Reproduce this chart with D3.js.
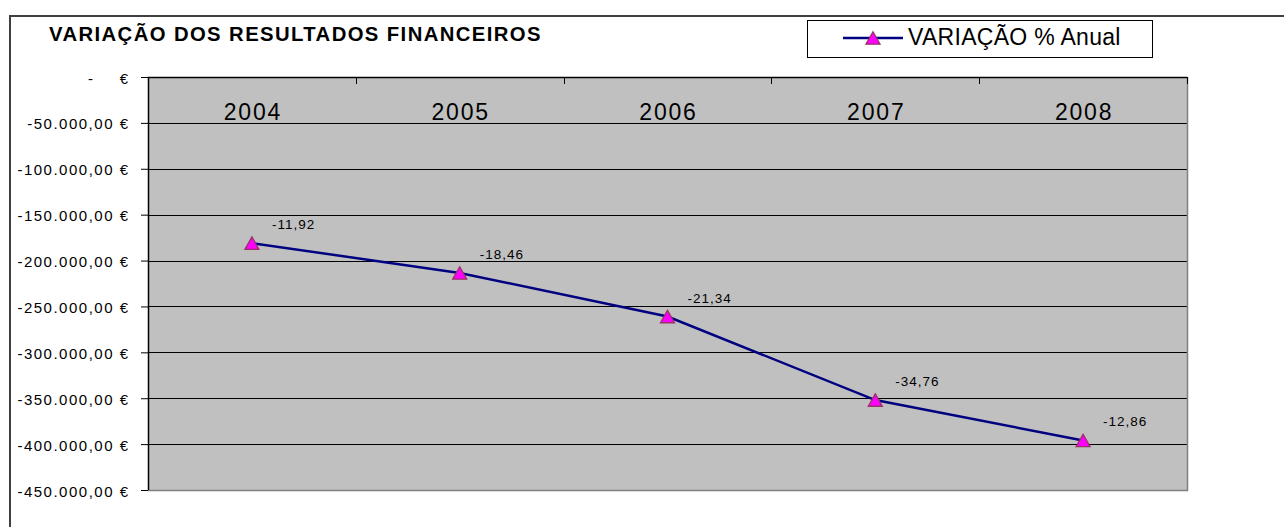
<!DOCTYPE html>
<html><head><meta charset="utf-8">
<script src="https://cdn.jsdelivr.net/npm/d3@7"></script>
<style>body{margin:0;background:#fff;overflow:hidden} text{font-family:"Liberation Sans",Arial,sans-serif}</style>
</head><body><svg id="c" width="1284" height="527"></svg>
<script>
const categories = ["2004", "2005", "2006", "2007", "2008"];
const values = [-181000, -213500, -261000, -352000, -396000];
const pctLabels = ["-11,92", "-18,46", "-21,34", "-34,76", "-12,86"];
const yTicks = [0, -50000, -100000, -150000, -200000, -250000, -300000, -350000, -400000, -450000];
const title = "VARIAÇÃO DOS RESULTADOS FINANCEIROS";
const seriesName = "VARIAÇÃO % Anual";

const svg = d3.select("#c");
const L = 148, T = 77, R = 1187, B = 490;
const x = d3.scaleBand().domain(categories).range([L, R]);
const bw = x.bandwidth();
const y = d3.scaleLinear().domain([0, -450000]).range([T, B]);

// outer frame
svg.append("path").attr("d", "M10,527 V16 H1284").attr("fill", "none")
  .attr("stroke", "#404040").attr("stroke-width", 2);

// title
svg.append("text").attr("x", 49).attr("y", 41).attr("font-size", 20.3).attr("font-weight", "bold")
  .attr("letter-spacing", 1.4).attr("fill", "#000").text(title);

// plot background
svg.append("rect").attr("x", L).attr("y", T).attr("width", R - L).attr("height", B - T).attr("fill", "#c0c0c0");

// gridlines
svg.append("g").selectAll("line").data(yTicks.filter(v => v < 0 && v > -450000)).join("line")
  .attr("x1", L).attr("x2", R).attr("y1", d => Math.round(y(d)) + 0.5).attr("y2", d => Math.round(y(d)) + 0.5)
  .attr("stroke", "#000").attr("stroke-width", 1);

// plot borders
svg.append("path").attr("d", `M${R + 0.5},${T} V${B + 0.5} H${L}`).attr("fill", "none").attr("stroke", "#808080").attr("stroke-width", 1.5);
svg.append("path").attr("d", `M${L + 0.5},${B} V${T + 0.5} H${R}`).attr("fill", "none").attr("stroke", "#000").attr("stroke-width", 1.5);

// y axis
const loc = d3.formatLocale({decimal: ",", thousands: ".", grouping: [3], currency: ["", " €"], minus: "-"});
const f = loc.format(",.2f");
const yAxis = d3.axisLeft(y).tickValues(yTicks).tickSize(7).tickPadding(11.5)
  .tickFormat(v => v === 0 ? "€" : f(v) + " €");
const gy = svg.append("g").attr("transform", `translate(${L},0)`).call(yAxis);
gy.select(".domain").remove();
gy.selectAll(".tick line").attr("stroke", "#000");
gy.selectAll(".tick text").attr("font-size", 15).attr("letter-spacing", 1.5).attr("fill", "#000")
  .attr("font-family", '"Liberation Sans",Arial,sans-serif').attr("dy", "0.4em");
gy.selectAll(".tick").filter(d => d === 0).append("text")
  .attr("x", -55).attr("dy", "0.4em").attr("text-anchor", "end").attr("font-size", 15)
  .attr("font-family", '"Liberation Sans",Arial,sans-serif').attr("fill", "#000").text("-");

// x axis boundary ticks (inside, at top)
const bounds = categories.map(c => x(c)).concat([x(categories[categories.length - 1]) + bw]);
svg.append("g").selectAll("line").data(bounds).join("line")
  .attr("x1", d => Math.round(d) + 0.5).attr("x2", d => Math.round(d) + 0.5)
  .attr("y1", T).attr("y2", T + 7).attr("stroke", "#000");

// category labels
svg.append("g").selectAll("text").data(categories).join("text")
  .attr("x", d => x(d) + bw / 2 + 1).attr("y", 120).attr("text-anchor", "middle")
  .attr("font-size", 23).attr("letter-spacing", 1.8).attr("fill", "#000").text(d => d);

// series
const pts = categories.map((c, i) => ({c, v: values[i], lab: pctLabels[i]}));
const line = d3.line().x(d => x(d.c) + bw / 2).y(d => y(d.v));
svg.append("path").datum(pts).attr("d", line).attr("fill", "none").attr("stroke", "#000080").attr("stroke-width", 2.5);

const tri = "M0,-6.2 L7,6.2 L-7,6.2 Z";
svg.append("g").selectAll("path").data(pts).join("path")
  .attr("transform", d => `translate(${x(d.c) + bw / 2},${y(d.v)})`)
  .attr("d", tri).attr("fill", "#ff00ff").attr("stroke", "#993366").attr("stroke-width", 1.3);

svg.append("g").selectAll("text").data(pts).join("text")
  .attr("x", d => x(d.c) + bw / 2 + 20).attr("y", d => y(d.v) - 14)
  .attr("font-size", 13.5).attr("letter-spacing", 1).attr("fill", "#000").text(d => d.lab);

// legend
const lg = svg.append("g");
lg.append("rect").attr("x", 807.5).attr("y", 20.5).attr("width", 345).attr("height", 37)
  .attr("fill", "#fff").attr("stroke", "#000").attr("stroke-width", 1);
lg.append("line").attr("x1", 843).attr("x2", 903).attr("y1", 38).attr("y2", 38)
  .attr("stroke", "#000080").attr("stroke-width", 2.5);
lg.append("path").attr("transform", "translate(873,38)").attr("d", tri)
  .attr("fill", "#ff00ff").attr("stroke", "#993366").attr("stroke-width", 1.3);
lg.append("text").attr("x", 908).attr("y", 44.5).attr("font-size", 23).attr("letter-spacing", 0.3)
  .attr("fill", "#000").text(seriesName);
</script></body></html>
